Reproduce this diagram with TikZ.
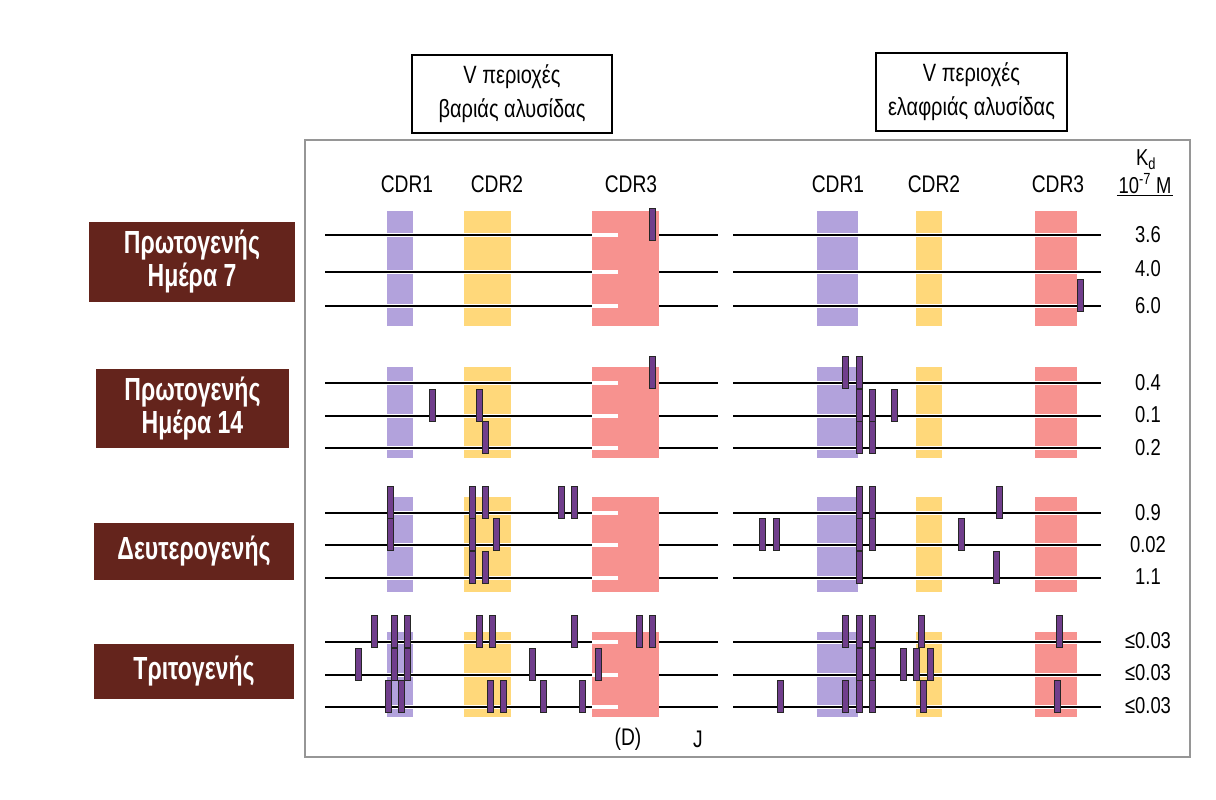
\documentclass[tikz,border=0pt]{standalone}
\usepackage{fontspec}
\setmainfont{Liberation Sans}
\newfontfamily\condfont[FakeStretch=0.8]{Liberation Sans}
\newfontfamily\stagefont[FakeStretch=0.72]{Liberation Sans}
\usetikzlibrary{positioning}
\definecolor{stagebrown}{RGB}{100,36,28}
\definecolor{cdrone}{RGB}{178,162,220}
\definecolor{cdrtwo}{RGB}{255,216,122}
\definecolor{cdrthree}{RGB}{247,146,143}
\definecolor{mutviolet}{RGB}{112,62,140}
\definecolor{framegray}{RGB}{150,150,150}
\begin{document}
\begin{tikzpicture}[x=1pt,y=-1pt,
  stage/.style={fill=stagebrown,text=white,align=center,inner sep=0pt,font=\stagefont\bfseries\fontsize{32}{33}\selectfont},
  header/.style={draw,line width=1.2pt,fill=white,align=center,inner sep=0pt,font=\condfont\fontsize{25}{34}\selectfont},
  cdr/.style={font=\condfont\fontsize{24}{26}\selectfont},
  kd/.style={font=\condfont\fontsize{23}{26}\selectfont},
  chain/.style={line width=1.6pt,black},
  halo/.style={line width=3.5pt,white},
  mutbar/.style={fill=mutviolet,draw=black!85,line width=0.8pt}]
\useasboundingbox (0,0) rectangle (1216,800);
% headers
\node[header,minimum width=200pt,minimum height=78pt] (heavy) at (512,94) {V περιοχές\\βαριάς αλυσίδας};
\node[header,minimum width=191pt,minimum height=78pt] (light) at (971.5,92) {V περιοχές\\ελαφριάς αλυσίδας};
% stages
\node[stage,minimum width=206pt,minimum height=80pt] (day7) at (192,262) {Πρωτογενής\\Ημέρα 7};
\node[stage,minimum width=193pt,minimum height=79pt] (day14) at (192.5,408.5) {Πρωτογενής\\Ημέρα 14};
\node[stage,minimum width=200pt,minimum height=57pt] (second) at (194,551.5) {Δευτερογενής};
\node[stage,minimum width=200pt,minimum height=55pt] (third) at (194,671.5) {Τριτογενής};
% frame
\draw[framegray,line width=2.5pt] (305,140) rectangle (1190,757);
% CDR bands
\foreach \top/\bot in {211/326,367/458,497/592,632/717}{
  \fill[cdrone] (387,\top) rectangle (413,\bot);
  \fill[cdrtwo] (464,\top) rectangle (511,\bot);
  \fill[cdrthree] (592,\top) rectangle (659,\bot);
  \fill[cdrone] (817,\top) rectangle (858,\bot);
  \fill[cdrtwo] (916,\top) rectangle (942,\bot);
  \fill[cdrthree] (1035,\top) rectangle (1077,\bot);
}
% chains
\foreach \y in {235,272,306,383,416,448,513,545,578,642,675,707}{
  \draw[halo] (325,\y) -- (618,\y);
  \draw[halo] (659,\y) -- (718,\y);
  \draw[halo] (733,\y) -- (1101,\y);
  \draw[chain] (325,\y) -- (592,\y);
  \draw[chain] (659,\y) -- (718,\y);
  \draw[chain] (733,\y) -- (1101,\y);
}
% mutations
\foreach \x/\y in {652/235,1080/306,
  432/416,479/416,485/448,652/383,
  845/383,859/383,859/416,872/416,894/416,859/448,872/448,
  390/513,390/545,472/513,472/545,472/578,485/513,485/578,496/545,561/513,574/513,
  859/513,859/545,859/578,872/513,872/545,999/513,762/545,776/545,961/545,996/578,
  374/642,394/642,394/675,407/642,407/675,479/642,492/642,574/642,639/642,652/642,
  358/675,532/675,598/675,388/707,401/707,490/707,503/707,543/707,582/707,
  845/642,859/642,859/675,859/707,872/642,872/675,872/707,921/642,1059/642,
  903/675,916/675,930/675,780/707,845/707,923/707,1057/707}
  \draw[mutbar] (\x-3,\y-27) rectangle (\x+3,\y+5);
% labels
\node[cdr] (hcdr1) at (407,184) {CDR1};
\node[cdr] (hcdr2) at (497,184) {CDR2};
\node[cdr] (hcdr3) at (631,184) {CDR3};
\node[cdr] (lcdr1) at (838,184) {CDR1};
\node[cdr] (lcdr2) at (934,184) {CDR2};
\node[cdr] (lcdr3) at (1058,184) {CDR3};
\node[kd] (kdsym) at (1146,160) {K\textsubscript{d}};
\node[kd,inner sep=1.5pt] (kdunit) at (1145,184) {10\textsuperscript{-7} M};
\draw[line width=1pt] (kdunit.south west) -- (kdunit.south east);
\foreach \v/\y in {3.6/235,4.0/269,6.0/306,0.4/383,0.1/415,0.2/448,0.9/513,0.02/545,1.1/577,≤0.03/641,≤0.03/673,≤0.03/706}
  \node[kd] (kd\y) at (1148,\y) {\v};
\node[cdr] (dseg) at (628,739) {(D)};
\node[cdr] (jseg) at (698,739) {J};
\end{tikzpicture}
\end{document}
